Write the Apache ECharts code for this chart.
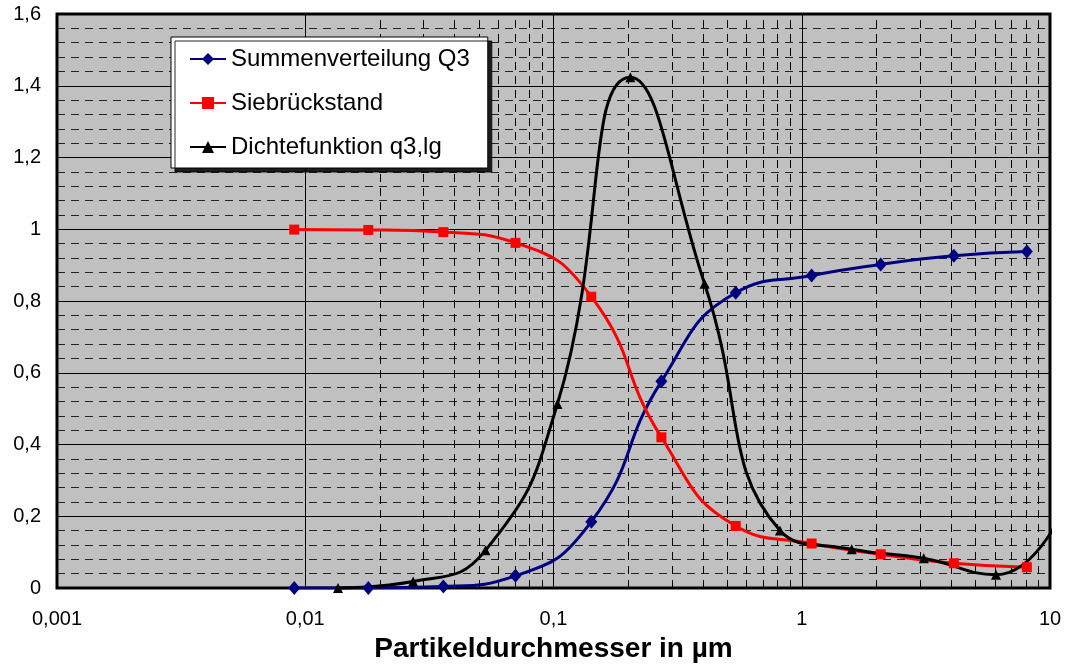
<!DOCTYPE html>
<html>
<head>
<meta charset="utf-8">
<script src="https://cdn.jsdelivr.net/npm/echarts@6/dist/echarts.min.js"></script>
<style>
html,body{margin:0;padding:0;background:#fff;}
#chart{width:1066px;height:666px;}
</style>
</head>
<body>
<div id="chart"></div>
<script>
// Particle diameters (µm) for Q3 and Siebrückstand
const xQ = [0.00903, 0.01795, 0.0360, 0.0703, 0.142, 0.272, 0.542, 1.096, 2.08, 4.10, 8.07];
const summenQ3 = [0.000, 0.000, 0.004, 0.034, 0.185, 0.576, 0.823, 0.871, 0.902, 0.926, 0.938];
const siebrueck = [0.999, 0.998, 0.992, 0.962, 0.812, 0.420, 0.173, 0.124, 0.094, 0.069, 0.058];
// Density function q3,lg
const xq = [0.01355, 0.0272, 0.0532, 0.1037, 0.204, 0.406, 0.817, 1.59, 3.10, 6.06, 11.9];
const dichte = [0.000, 0.018, 0.105, 0.513, 1.424, 0.848, 0.160, 0.108, 0.083, 0.037, 0.25];

const seriesNames = ['Summenverteilung Q3', 'Siebrückstand', 'Dichtefunktion q3,lg'];
const xTitle = 'Partikeldurchmesser in µm';
const decades = [0.001, 0.01, 0.1, 1];
const minorFactors = [2, 3, 4, 5, 6, 7, 8, 9];

const FONT = '"Liberation Sans", Arial, sans-serif';

function fmt(v) {
  return Number(Number(v).toPrecision(6)).toString().replace('.', ',');
}

const minorLines = [];
decades.forEach(d => minorFactors.forEach(k => minorLines.push({ xAxis: Number((d * k).toPrecision(6)) })));

const pair = (xs, ys) => xs.map((x, i) => [x, ys[i]]);

const dichteData = pair(xq, dichte).map((p, i) =>
  i === xq.length - 1 ? { value: p, symbol: 'none' } : p);

const chart = echarts.init(document.getElementById('chart'));
chart.setOption({
  animation: false,
  backgroundColor: '#ffffff',
  textStyle: { fontFamily: FONT },
  grid: {
    left: 57, right: 16, top: 14, bottom: 78,
    outerBoundsMode: 'none', containLabel: false,
    show: true, backgroundColor: '#c0c0c0', borderColor: '#000', borderWidth: 3
  },
  legend: {
    orient: 'vertical',
    left: 171, top: 37, z: 10,
    data: seriesNames,
    backgroundColor: '#ffffff',
    borderColor: '#000', borderWidth: 1,
    padding: [10, 18, 9, 18],
    itemGap: 20,
    itemWidth: 36, itemHeight: 15,
    shadowColor: 'rgba(0,0,0,0.85)', shadowOffsetX: 4, shadowOffsetY: 4, shadowBlur: 0,
    textStyle: { fontSize: 24, color: '#000', fontFamily: FONT }
  },
  xAxis: {
    type: 'log', logBase: 10, min: 0.001, max: 10,
    name: xTitle, nameLocation: 'middle', nameGap: 47,
    nameTextStyle: { fontSize: 28, fontWeight: 'bold', color: '#000', fontFamily: FONT },
    axisLine: { show: false },
    axisTick: { show: false },
    axisLabel: { fontSize: 20, color: '#000', margin: 21, formatter: fmt, fontFamily: FONT },
    splitLine: { show: true, lineStyle: { color: '#000', width: 1 } }
  },
  yAxis: {
    type: 'value', min: 0, max: 1.6, interval: 0.2,
    axisLine: { show: false },
    axisTick: { show: false },
    axisLabel: { fontSize: 20, color: '#000', margin: 16, formatter: fmt, fontFamily: FONT },
    splitLine: { show: true, lineStyle: { color: '#000', width: 1 } },
    minorTick: { show: false, splitNumber: 5 },
    minorSplitLine: { show: true, lineStyle: { color: '#222', width: 1, type: [8, 6] } }
  },
  series: [
    {
      name: '_minor', type: 'line', data: [], z: 1, silent: true,
      markLine: {
        silent: true, symbol: ['none', 'none'], animation: false, z: 1,
        label: { show: false },
        lineStyle: { color: '#000', width: 1, type: [8, 6] },
        data: minorLines
      }
    },
    {
      name: seriesNames[0], type: 'line', data: pair(xQ, summenQ3),
      smooth: 0.5, symbol: 'diamond', symbolSize: [12, 14], z: 3,
      lineStyle: { color: '#000080', width: 3 },
      itemStyle: { color: '#000080' }
    },
    {
      name: seriesNames[1], type: 'line', data: pair(xQ, siebrueck),
      smooth: 0.5, symbol: 'rect', symbolSize: 10, z: 3,
      lineStyle: { color: '#ff0000', width: 3 },
      itemStyle: { color: '#ff0000' }
    },
    {
      name: seriesNames[2], type: 'line', data: dichteData, clip: false,
      smooth: 0.5, symbol: 'triangle', symbolSize: 10, z: 3,
      lineStyle: { color: '#000000', width: 3 },
      itemStyle: { color: '#000000' }
    }
  ]
});
</script>
</body>
</html>
